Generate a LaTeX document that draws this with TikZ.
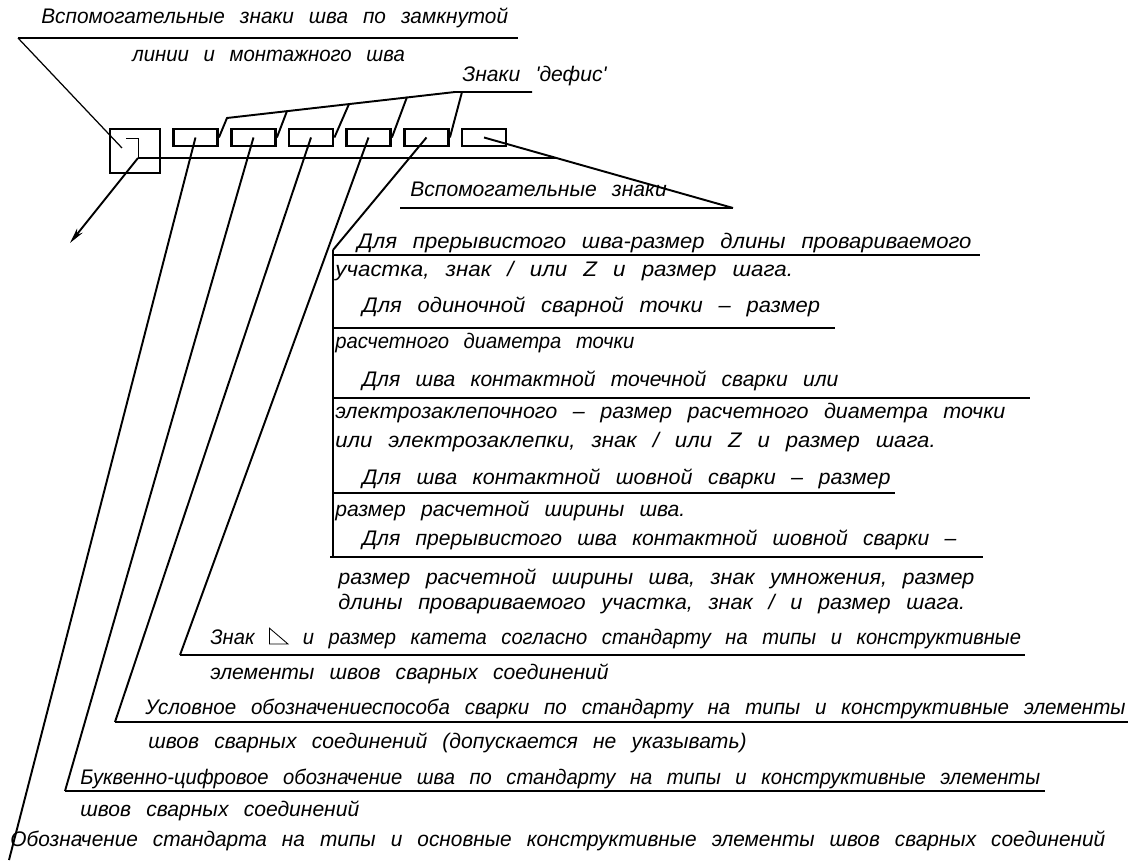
\documentclass[tikz,border=0pt]{standalone}
\usepackage{fontspec}
\setmainfont{Liberation Sans}
\newfontfamily\gostfont{Liberation Sans}[WordSpace=2.6]
\usetikzlibrary{positioning,arrows.meta}
\newcommand\gost{\gostfont\itshape\fontsize{12}{14}\selectfont}
\newcommand\katet{\tikz[baseline=0pt]\draw[line width=0.5pt] (0pt,0pt) -- (0pt,9pt) -- (11pt,0pt) -- cycle;}

\begin{document}
\begin{tikzpicture}[x=0.02cm, y=-0.02cm,
    shelf/.style={line width=1.6pt},
    lead/.style={line width=1.1pt},
    thinlead/.style={line width=0.7pt},
    cell/.style={draw, line width=1.6pt, minimum width=0.88cm, minimum height=0.34cm, inner sep=0pt},
    txt/.style={anchor=base west, inner sep=0pt, font=\gost, xscale=#1},
    txt/.default=1]
\useasboundingbox (0,0) rectangle (1128,861);

% weld symbol boxes
\node[cell, minimum width=1cm, minimum height=0.88cm] (zm) at (135,151) {};
\foreach \i/\x in {1/195.5,2/253.5,3/311,4/368.5,5/426.5,6/484}
    \node[cell] (z\i) at (\x,137.5) {};

\coordinate (o) at (138,158);
\coordinate (m) at (557,158);
\coordinate (k) at (122,148);
\coordinate (a) at (70,243);
\draw[shelf] (o) -- (m);
\draw[line width=0.5pt] (126,138) -- (138,138) -- (o);
\draw[lead, -{Stealth[length=9pt,width=4pt]}] (o) -- (a);

% top note
\node[txt=0.985] (t1) at (41,24) {Вспомогательные знаки шва по замкнутой};
\node[txt=0.965] (t2) at (132,62) {линии и монтажного шва};
\coordinate (s0) at (18,38);
\draw[shelf] (s0) -- (518,38);
\draw[thinlead] (s0) -- (k);

% hyphen signs
\node[txt] (t3) at (462,82) {Знаки 'дефис'};
\draw[lead] (z1.east) -- (227,118) -- (455,92) -- (532,92);
\foreach \k/\x/\y in {2/287/111, 3/349/104, 4/407/97, 5/462/92}
    \draw[lead] (z\k.east) -- (\x,\y);

% auxiliary signs
\node[txt] (t4) at (410,197) {Вспомогательные знаки};
\coordinate (ua) at (733,208);
\draw[shelf] (400,208) -- (ua);
\draw[lead] (z6.center) -- (ua);

% bracket of dimensions
\coordinate (bar) at (333,250);
\draw[shelf] (bar) -- (333,557);
\draw[lead] (z5.center) -- (bar);
\draw[shelf] (333,255) -- (980,255);
\draw[shelf] (333,328) -- (835,328);
\draw[shelf] (333,398) -- (1030,398);
\draw[shelf] (333,493) -- (895,493);
\draw[shelf] (330,557) -- (983,557);
\node[txt=1.045] (t5) at (357,249) {Для прерывистого шва-размер длины провариваемого};
\node[txt=1.06] (t6) at (335,276) {участка, знак / или Z и размер шага.};
\node[txt=1.04] (t7) at (362,313) {Для одиночной сварной точки – размер};
\node[txt=0.96] (t8) at (335,348) {расчетного диаметра точки};
\node[txt] (t9) at (362,386) {Для шва контактной точечной сварки или};
\node[txt=1.02] (t10) at (335,418) {электрозаклепочного – размер расчетного диаметра точки};
\node[txt=1.05] (t11) at (335,447) {или электрозаклепки, знак / или Z и размер шага.};
\node[txt=1.02] (t12) at (362,484) {Для шва контактной шовной сварки – размер};
\node[txt] (t13) at (335,516) {размер расчетной ширины шва.};
\node[txt] (t14) at (362,545) {Для прерывистого шва контактной шовной сварки –};
\node[txt=1.02] (t15) at (338,584) {размер расчетной ширины шва, знак умножения, размер};
\node[txt=1.03] (t16) at (338,609) {длины провариваемого участка, знак / и размер шага.};

% lower notes
\coordinate (u6) at (180,655);
\coordinate (u7) at (115,722);
\coordinate (u8) at (65,791);
\coordinate (u9) at (9,860);
\draw[shelf] (u6) -- (1025,655);
\draw[shelf] (u7) -- (1128,722);
\draw[shelf] (u8) -- (1045,791);
\draw[lead] (z4.center) -- (u6);
\draw[lead] (z3.center) -- (u7);
\draw[lead] (z2.center) -- (u8);
\draw[lead] (z1.center) -- (u9);
\node[txt=0.956] (t17) at (210,644) {Знак \katet\ и размер катета согласно стандарту на типы и конструктивные};
\node[txt] (t18) at (210,679) {элементы швов сварных соединений};
\node[txt=0.975] (t19) at (145,714) {Условное обозначениеспособа сварки по стандарту на типы и конструктивные элементы};
\node[txt] (t20) at (148,748) {швов сварных соединений (допускается не указывать)};
\node[txt=0.957] (t21) at (80,784) {Буквенно-цифровое обозначение шва по стандарту на типы и конструктивные элементы};
\node[txt] (t22) at (80,816) {швов сварных соединений};
\node[txt=0.988] (t23) at (10,846) {Обозначение стандарта на типы и основные конструктивные элементы швов сварных соединений};
\end{tikzpicture}
\end{document}
